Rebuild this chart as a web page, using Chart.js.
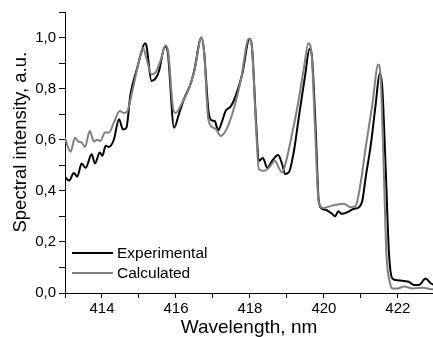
<!DOCTYPE html>
<html>
<head>
<meta charset="utf-8">
<script src="https://cdn.jsdelivr.net/npm/chart.js@4.4.0/dist/chart.umd.min.js"></script>
<style>
html,body{margin:0;padding:0;background:#fff;}
#c{display:block;}
</style>
</head>
<body>
<canvas id="c" width="433" height="337"></canvas>
<script>
// Wavelength (nm) and intensity values
const expWavelength = [413.0,413.11,413.24,413.33,413.45,413.56,413.72,413.81,413.94,414.01,414.1,414.19,414.32,414.46,414.57,414.66,414.77,414.95,415.07,415.16,415.2,415.34,415.45,415.54,415.7,415.77,415.95,416.08,416.22,416.4,416.49,416.69,416.76,416.89,416.98,417.05,417.14,417.25,417.34,417.48,417.61,417.79,417.99,418.05,418.17,418.24,418.35,418.47,418.6,418.76,418.87,418.95,419.05,419.19,419.32,419.5,419.61,419.67,419.78,419.86,419.95,420.09,420.22,420.3,420.39,420.48,420.63,420.81,420.95,421.04,421.13,421.27,421.4,421.51,421.58,421.67,421.76,421.85,421.99,422.16,422.3,422.43,422.57,422.75,422.89,423.0];
const expIntensity = [0.455,0.44,0.47,0.455,0.507,0.49,0.543,0.507,0.55,0.537,0.576,0.572,0.60,0.68,0.64,0.647,0.777,0.88,0.945,0.978,0.97,0.83,0.84,0.868,0.965,0.95,0.647,0.70,0.76,0.82,0.868,1.0,0.945,0.70,0.675,0.673,0.637,0.673,0.712,0.73,0.77,0.855,0.995,0.97,0.66,0.517,0.528,0.49,0.517,0.54,0.505,0.466,0.472,0.556,0.686,0.86,0.955,0.934,0.634,0.362,0.33,0.323,0.31,0.30,0.32,0.31,0.316,0.33,0.336,0.362,0.453,0.582,0.738,0.86,0.80,0.49,0.155,0.057,0.05,0.047,0.044,0.031,0.031,0.057,0.038,0.03];

const calcWavelength = [413.0,413.06,413.15,413.27,413.36,413.45,413.54,413.67,413.78,413.87,413.96,414.08,414.19,414.32,414.48,414.59,414.68,414.82,415.0,415.11,415.2,415.34,415.47,415.59,415.72,415.79,415.92,415.99,416.17,416.35,416.5,416.69,416.76,416.87,416.98,417.09,417.21,417.34,417.52,417.75,417.97,418.05,418.17,418.24,418.38,418.51,418.68,418.78,418.87,418.98,419.1,419.28,419.46,419.58,419.67,419.76,419.86,420.0,420.22,420.54,420.72,420.86,420.99,421.13,421.31,421.47,421.53,421.62,421.69,421.79,421.85,422.0,422.16,422.4,422.66,422.91,423.0];
const calcIntensity = [0.608,0.58,0.553,0.608,0.593,0.589,0.572,0.634,0.593,0.60,0.595,0.628,0.628,0.667,0.712,0.705,0.71,0.79,0.907,0.96,0.92,0.855,0.868,0.913,0.969,0.945,0.725,0.705,0.745,0.80,0.87,1.0,0.945,0.686,0.65,0.64,0.615,0.634,0.70,0.83,0.995,0.965,0.635,0.485,0.478,0.49,0.517,0.49,0.472,0.517,0.595,0.725,0.88,0.978,0.93,0.647,0.355,0.333,0.342,0.349,0.336,0.342,0.427,0.57,0.738,0.894,0.855,0.478,0.155,0.038,0.018,0.018,0.025,0.018,0.021,0.015,0.014];

// Axis tick positions (every nm; only even ones labelled)
const xTickValues = [413,414,415,416,417,418,419,420,421,422];

const seriesLabels = ['Experimental', 'Calculated'];
const xTitle = 'Wavelength, nm';
const yTitle = 'Spectral intensity, a.u.';

const FONT = "'Liberation Sans', Arial, Helvetica, sans-serif";
const BLACK = '#000000';
const GRAY = '#7f7f7f';

function toXY(xs, ys){ return xs.map((x,i)=>({x:x, y:ys[i]})); }

const legendPlugin = {
  id: 'insideLegend',
  afterDraw(chart){
    const ctx = chart.ctx;
    const ds = chart.data.datasets;
    const order = [1, 0]; // Experimental first, Calculated second
    const rows = [253, 273];
    ctx.save();
    ctx.font = "15.5px " + FONT;
    ctx.textBaseline = 'middle';
    ctx.textAlign = 'left';
    order.forEach((di, r) => {
      const d = ds[di];
      ctx.strokeStyle = d.borderColor;
      ctx.lineWidth = 2.2;
      ctx.beginPath();
      ctx.moveTo(72, rows[r]);
      ctx.lineTo(113, rows[r]);
      ctx.stroke();
      ctx.fillStyle = '#000';
      ctx.fillText(d.label, 117, rows[r] + 1);
    });
    ctx.restore();
  }
};

new Chart(document.getElementById('c'), {
  type: 'line',
  data: {
    datasets: [
      {
        label: seriesLabels[1],
        data: toXY(calcWavelength, calcIntensity),
        borderColor: GRAY,
        borderWidth: 2,
        pointRadius: 0,
        cubicInterpolationMode: 'monotone',
        fill: false
      },
      {
        label: seriesLabels[0],
        data: toXY(expWavelength, expIntensity),
        borderColor: BLACK,
        borderWidth: 2,
        pointRadius: 0,
        cubicInterpolationMode: 'monotone',
        fill: false
      }
    ]
  },
  options: {
    responsive: false,
    animation: false,
    events: [],
    layout: { padding: { left: 0, right: 0, top: 11, bottom: 0 } },
    plugins: {
      legend: { display: false },
      tooltip: { enabled: false }
    },
    scales: {
      x: {
        type: 'linear',
        min: 413,
        max: 422.95,
        border: { color: '#000', width: 1 },
        grid: { drawOnChartArea: false, drawTicks: true, tickLength: 5, tickColor: '#000' },
        ticks: {
          autoSkip: false,
          maxRotation: 0,
          padding: 2,
          color: '#000',
          font: { family: FONT, size: 15 },
          callback: (v) => (Math.round(v) % 2 === 0 ? String(Math.round(v)) : '')
        },
        afterBuildTicks(scale){
          scale.ticks = xTickValues.map(v => ({ value: v }));
        },
        title: {
          display: true,
          text: xTitle,
          color: '#000',
          font: { family: FONT, size: 19, lineHeight: 1 },
          padding: { top: 0, bottom: 0 }
        },
        afterFit(scale){ scale.height = 337 - 293; }
      },
      y: {
        type: 'linear',
        min: 0,
        max: 1.1,
        border: { color: '#000', width: 1 },
        grid: { drawOnChartArea: false, drawTicks: true, tickLength: 6, tickColor: '#000' },
        ticks: {
          stepSize: 0.1,
          autoSkip: false,
          padding: 3,
          color: '#000',
          font: { family: FONT, size: 15 },
          callback: (v) => {
            const t = Math.round(v * 10);
            return t % 2 === 0 ? (t / 10).toFixed(1).replace('.', ',') : '';
          }
        },
        title: {
          display: true,
          text: '    ' + yTitle,
          color: '#000',
          font: { family: FONT, size: 18.5, lineHeight: 1.2 },
          padding: { top: 10, bottom: 0 }
        },
        afterFit(scale){ scale.width = 65; }
      }
    }
  },
  plugins: [legendPlugin]
});
</script>
</body>
</html>
